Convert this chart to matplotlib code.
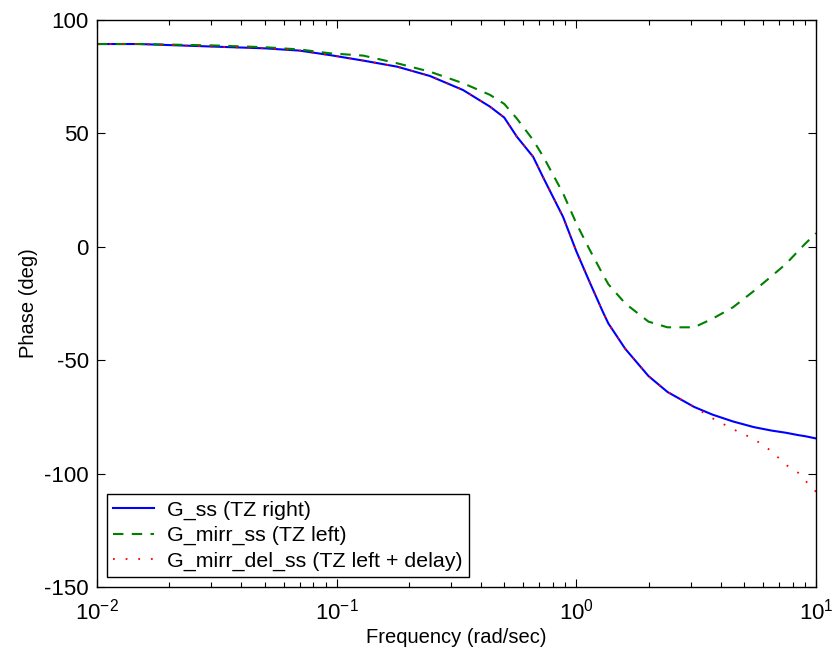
import math
import matplotlib
matplotlib.use("Agg")
import matplotlib.pyplot as plt
from matplotlib.ticker import FixedLocator, FuncFormatter, LogLocator, NullFormatter

# frequency grid (rad/sec) and phase curves (deg)
freq = [0.01, 0.015, 0.03, 0.05, 0.07, 0.094, 0.129, 0.179, 0.245, 0.337,
        0.436, 0.5, 0.565, 0.66, 0.73, 0.88, 1.0, 1.13, 1.29, 1.36,
        1.6, 2.0, 2.4, 3.1, 3.7, 4.5, 5.5, 6.5, 7.5, 8.4, 9.0, 10.0]
phase_g = [89.4, 89.4, 88.3, 87.5, 86.5, 84.5, 82.1, 79.4, 75.3, 69.1,
           61.8, 57.0, 48.5, 39.7, 30.2, 13.2, -2.0, -15.0, -28.7, -33.8,
           -45.0, -57.0, -64.0, -70.6, -74.0, -77.0, -79.5, -81.0, -82.0, -83.0, -83.5, -84.5]
phase_mirr = [89.4, 89.4, 88.8, 88.0, 87.0, 85.3, 84.3, 80.9, 77.2, 72.1,
              67.0, 63.0, 56.5, 47.1, 39.5, 23.6, 10.3, -0.8, -12.2, -16.5,
              -25.0, -33.0, -35.5, -35.5, -31.7, -26.7, -19.5, -13.1, -7.5, -2.0, 1.3, 6.0]
phase_del = [89.4, 89.4, 88.3, 87.5, 86.5, 84.5, 82.1, 79.4, 75.3, 69.1,
             61.8, 57.0, 48.5, 39.7, 30.2, 13.2, -2.0, -15.0, -28.7, -33.8,
             -45.0, -57.0, -64.0, -70.6, -75.6, -80.4, -84.7, -90.0, -96.2, -99.5, -103.0, -108.0]

labels = ["G_ss (TZ right)", "G_mirr_ss (TZ left)", "G_mirr_del_ss (TZ left + delay)"]
yticks = [-150, -100, -50, 0, 50, 100]

plt.rcParams["font.family"] = ["Liberation Sans", "DejaVu Sans"]
plt.rcParams["axes.unicode_minus"] = False

fig = plt.figure(figsize=(8.32, 6.66), dpi=100)
ax = fig.add_axes([0.1166, 0.1186, 0.8642, 0.8514])

ax.semilogx(freq, phase_g, color="blue", lw=1.5, label=labels[0])
ax.semilogx(freq, phase_mirr, color="green", lw=1.5, dashes=(5, 4), label=labels[1])
ax.semilogx(freq, phase_del, color="red", lw=1.3, dashes=(1, 6), label=labels[2])

ax.set_xlim(0.01, 10)
ax.set_ylim(-150, 100)
ax.yaxis.set_major_locator(FixedLocator(yticks))
ax.xaxis.set_major_locator(LogLocator(base=10, numticks=10))
ax.xaxis.set_minor_locator(LogLocator(base=10, subs=range(2, 10), numticks=10))
ax.xaxis.set_minor_formatter(NullFormatter())

def fmt_pow(v, pos):
    e = int(round(math.log10(v)))
    return r"$\mathregular{10^{%d}}$" % e

ax.xaxis.set_major_formatter(FuncFormatter(fmt_pow))

ax.tick_params(which="both", direction="in", top=True, right=True, labelsize=16)
ax.tick_params(axis="x", pad=8)
ax.tick_params(axis="y", pad=6)
ax.tick_params(which="major", length=6, width=0.8)
ax.tick_params(which="minor", length=3.5, width=0.8)
for s in ax.spines.values():
    s.set_linewidth(1.0)

ax.set_xlabel("Frequency (rad/sec)", fontsize=14.5, labelpad=3)
ax.set_ylabel("Phase (deg)", fontsize=14.5, labelpad=4)

leg = ax.legend(loc="lower left", fontsize=15.4, fancybox=False, framealpha=1,
                edgecolor="black", handlelength=1.9, handletextpad=0.6,
                borderaxespad=0.45, borderpad=0.3, labelspacing=0.3)
leg.get_frame().set_linewidth(1.0)

fig.savefig("out.png", dpi=100)
plt.close(fig)
